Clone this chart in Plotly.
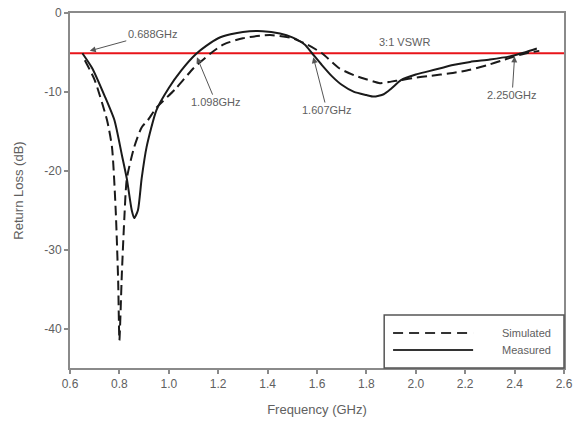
import plotly.graph_objects as go

# Measured (solid) curve
meas_f = [0.65, 0.69, 0.74, 0.78, 0.81, 0.83, 0.85, 0.86, 0.875, 0.89, 0.91, 0.95, 1.0, 1.05, 1.11,
          1.15, 1.2, 1.25, 1.3, 1.38, 1.45, 1.5, 1.55, 1.58, 1.62, 1.66, 1.7, 1.75, 1.8, 1.83, 1.87,
          1.9, 1.94, 2.0, 2.05, 2.1, 2.15, 2.22, 2.3, 2.38, 2.44, 2.49]
meas_db = [-5.1, -7.0, -10.5, -13.6, -18.0, -21.0, -25.0, -26.0, -25.0, -21.0, -17.0, -12.3, -9.5, -7.3, -5.2,
           -4.2, -3.2, -2.7, -2.4, -2.3, -2.6, -3.1, -4.0, -5.1, -6.6, -8.0, -9.1, -10.0, -10.4, -10.6, -10.3,
           -9.6, -8.5, -7.8, -7.4, -7.0, -6.6, -6.2, -5.9, -5.5, -5.0, -4.5]

# Simulated (dashed) curve
sim_f = [0.66, 0.70, 0.75, 0.77, 0.785, 0.795, 0.80, 0.81, 0.82, 0.83, 0.86, 0.89, 0.915, 0.95, 1.025,
         1.1, 1.17, 1.22, 1.3, 1.41, 1.5, 1.56, 1.62, 1.69, 1.75, 1.8, 1.855, 1.9, 1.94, 2.0, 2.05,
         2.15, 2.22, 2.29, 2.35, 2.4, 2.46, 2.5]
sim_db = [-6.0, -8.5, -13.6, -17.0, -25.0, -34.0, -41.5, -33.0, -26.0, -21.0, -17.0, -14.5, -13.6, -12.0, -9.7,
          -7.0, -5.1, -4.0, -3.2, -2.8, -3.2, -4.0, -5.1, -7.0, -7.9, -8.4, -8.9, -8.7, -8.5, -8.2, -8.0,
          -7.6, -7.2, -6.6, -6.0, -5.5, -5.0, -4.8]

vswr_level = -5.1
vswr_label = "3:1 VSWR"

# Marker annotations: label, arrow target (f, dB), label position (f, dB)
ann_labels = ["0.688GHz", "1.098GHz", "1.607GHz", "2.250GHz"]
ann_target_f = [0.68, 1.114, 1.585, 2.40]
ann_target_db = [-4.8, -5.6, -5.6, -5.5]
ann_text_f = [0.935, 1.19, 1.64, 2.39]
ann_text_db = [-2.6, -11.3, -12.3, -10.4]

x_ticks = [0.6, 0.8, 1.0, 1.2, 1.4, 1.6, 1.8, 2.0, 2.2, 2.4, 2.6]
y_ticks = [0, -10, -20, -30, -40]

FONT = "Liberation Sans, Arial, sans-serif"
GRAY = "#606060"
AXIS = "#8a8a8a"

fig = go.Figure()
fig.add_trace(go.Scatter(x=[x_ticks[0], x_ticks[-1]], y=[vswr_level, vswr_level], mode="lines",
                         line=dict(color="#e8141a", width=2), showlegend=False, hoverinfo="skip"))
fig.add_trace(go.Scatter(x=sim_f, y=sim_db, mode="lines", name="Simulated",
                         line=dict(color="#1a1a1a", width=2, dash="10px,5px", shape="spline", smoothing=0.6),
                         showlegend=False))
fig.add_trace(go.Scatter(x=meas_f, y=meas_db, mode="lines", name="Measured",
                         line=dict(color="#1a1a1a", width=2, shape="spline", smoothing=0.6),
                         showlegend=False))

for lab, tf, tdb, xf, xdb in zip(ann_labels, ann_target_f, ann_target_db, ann_text_f, ann_text_db):
    fig.add_annotation(x=tf, y=tdb, ax=xf, ay=xdb, axref="x", ayref="y", xref="x", yref="y",
                       text=lab, showarrow=True, arrowhead=2, arrowsize=1.2, arrowwidth=1,
                       arrowcolor="#555555", font=dict(family=FONT, size=11, color=GRAY))

fig.add_annotation(x=1.956, y=-3.7, xref="x", yref="y", text=vswr_label, showarrow=False,
                   font=dict(family=FONT, size=11, color=GRAY))

# Legend box (manual)
lx0, lx1, ly0, ly1 = 0.636, 1.0, 0.0, 0.149
fig.add_shape(type="rect", xref="paper", yref="paper", x0=lx0, x1=lx1, y0=ly0, y1=ly1,
              line=dict(color="#555555", width=1.5), fillcolor="white", layer="above")
leg_names = ["Simulated", "Measured"]
leg_dash = ["10px,6px", "solid"]
leg_y = [0.0986, 0.0507]
for nm, ds, yy in zip(leg_names, leg_dash, leg_y):
    fig.add_shape(type="line", xref="paper", yref="paper", x0=0.654, x1=0.816, y0=yy, y1=yy,
                  line=dict(color="#333333", width=2, dash=ds), layer="above")
    fig.add_annotation(x=0.978, y=yy, xref="paper", yref="paper", text=nm, showarrow=False,
                       xanchor="right", yanchor="middle", font=dict(family=FONT, size=11, color=GRAY))

fig.update_layout(
    width=575, height=433,
    margin=dict(l=70, r=11, t=13, b=65, autoexpand=False),
    plot_bgcolor="white", paper_bgcolor="white",
    font=dict(family=FONT, size=12, color=GRAY),
    showlegend=False,
)
fig.update_xaxes(range=[0.6, 2.6], tickvals=x_ticks, ticktext=[f"{v:.1f}" for v in x_ticks],
                 showgrid=False, zeroline=False, showline=True, linecolor=AXIS, linewidth=2,
                 mirror=True, ticks="outside", ticklen=4, tickcolor=AXIS, tickwidth=1.5, automargin=False,
                 title=dict(text="Frequency (GHz)", font=dict(family=FONT, size=13, color=GRAY), standoff=14),
                 tickfont=dict(family=FONT, size=12, color=GRAY))
fig.update_yaxes(range=[-45, 0], tickvals=y_ticks, ticktext=[str(v) for v in y_ticks],
                 showgrid=False, zeroline=False, showline=True, linecolor=AXIS, linewidth=2,
                 mirror=True, ticks="outside", ticklen=4, tickcolor=AXIS, tickwidth=1.5, automargin=False,
                 title=dict(text="Return Loss (dB)", font=dict(family=FONT, size=13, color=GRAY), standoff=18),
                 tickfont=dict(family=FONT, size=12, color=GRAY))

fig.write_html("out.html")
